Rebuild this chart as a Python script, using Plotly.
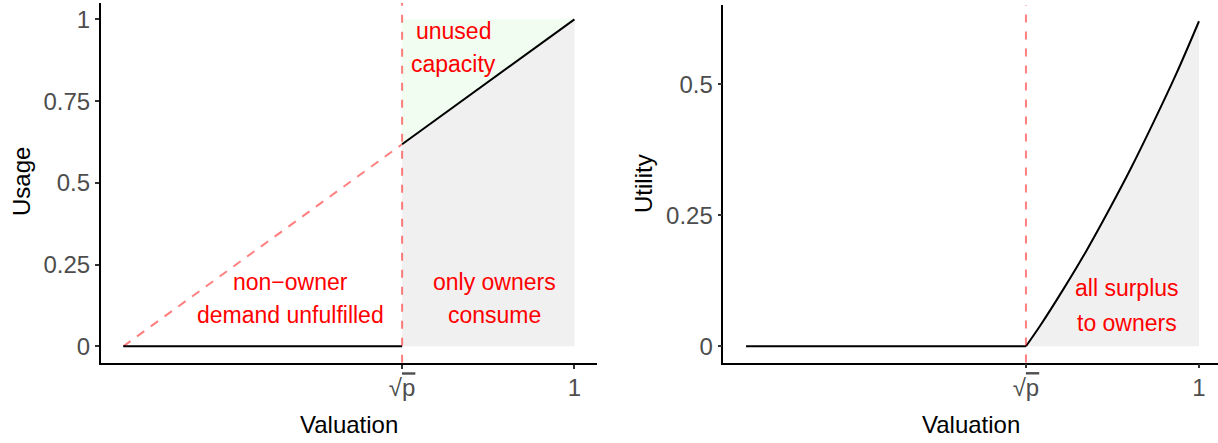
import plotly.graph_objects as go

# ---- data ----
sqrt_p = 0.618
usage_x = [sqrt_p, 1.0]
usage_y = [0.618, 1.0]
zero_x = [0.0, sqrt_p]
zero_y = [0.0, 0.0]
diag_x = [0.0, sqrt_p]
diag_y = [0.0, 0.618]
util_x = [0.618, 0.65, 0.70, 0.75, 0.80, 0.85, 0.90, 0.95, 1.00]
util_y = [0.0, 0.04, 0.108, 0.18, 0.258, 0.34, 0.428, 0.52, 0.62]
x_tickvals = [sqrt_p, 1.0]
x_ticktext = ["√<span style='text-decoration:overline'>p</span>", "1"]
usage_ticks = [0, 0.25, 0.5, 0.75, 1]
usage_ticktext = ["0", "0.25", "0.5", "0.75", "1"]
util_ticks = [0, 0.25, 0.5]
util_ticktext = ["0", "0.25", "0.5"]

FONT = "Liberation Sans, Arial, sans-serif"
RED_DASH = "rgba(255,0,0,0.5)"
GREY = "rgb(240,240,240)"
GREEN = "rgb(240,253,240)"

fig = go.Figure()

# ---- left panel fills ----
fig.add_trace(go.Scatter(
    x=[usage_x[0], usage_x[1], usage_x[1], usage_x[0]],
    y=[0, 0, usage_y[1], usage_y[0]],
    fill="toself", fillcolor=GREY, line=dict(width=0), mode="lines",
    hoverinfo="skip", showlegend=False, xaxis="x", yaxis="y"))
fig.add_trace(go.Scatter(
    x=[usage_x[0], usage_x[1], usage_x[0]],
    y=[usage_y[0], usage_y[1], usage_y[1]],
    fill="toself", fillcolor=GREEN, line=dict(width=0), mode="lines",
    hoverinfo="skip", showlegend=False, xaxis="x", yaxis="y"))
# ---- left panel lines ----
fig.add_trace(go.Scatter(x=diag_x, y=diag_y, mode="lines",
    line=dict(color=RED_DASH, width=2, dash="9px,8px"),
    showlegend=False, xaxis="x", yaxis="y"))
fig.add_trace(go.Scatter(x=zero_x, y=zero_y, mode="lines",
    line=dict(color="black", width=2), showlegend=False, xaxis="x", yaxis="y"))
fig.add_trace(go.Scatter(x=usage_x, y=usage_y, mode="lines",
    line=dict(color="black", width=2), showlegend=False, xaxis="x", yaxis="y"))

# ---- right panel ----
fig.add_trace(go.Scatter(
    x=util_x + [util_x[-1], util_x[0]],
    y=util_y + [0, 0],
    fill="toself", fillcolor=GREY, line=dict(width=0), mode="lines",
    hoverinfo="skip", showlegend=False, xaxis="x2", yaxis="y2"))
fig.add_trace(go.Scatter(x=zero_x, y=zero_y, mode="lines",
    line=dict(color="black", width=2), showlegend=False, xaxis="x2", yaxis="y2"))
fig.add_trace(go.Scatter(x=util_x, y=util_y, mode="lines", line_shape="spline",
    line=dict(color="black", width=2), showlegend=False, xaxis="x2", yaxis="y2"))

# vertical dashed lines at sqrt(p)
for xr, yr in [("x", "y domain"), ("x2", "y2 domain")]:
    fig.add_shape(type="line", xref=xr, yref=yr, x0=sqrt_p, x1=sqrt_p, y0=0, y1=1,
                  line=dict(color=RED_DASH, width=2, dash="8px,9px"))

axis_common = dict(showgrid=False, zeroline=False, showline=True, linecolor="black",
                   linewidth=1.6, ticks="outside", ticklen=4, tickwidth=1.5,
                   tickcolor="#333333", tickfont=dict(family=FONT, size=24, color="#4D4D4D"),
                   automargin=False, fixedrange=True)

fig.update_layout(
    width=1218, height=443,
    margin=dict(l=0, r=0, t=0, b=0),
    paper_bgcolor="white", plot_bgcolor="white",
    font=dict(family=FONT),
    xaxis=dict(domain=[100.7/1218, 597/1218], range=[-0.05, 1.05],
               tickvals=x_tickvals, ticktext=x_ticktext, anchor="y",
               ticklabelstandoff=-1, **axis_common),
    yaxis=dict(domain=[(443-362.7)/443, (443-3)/443], range=[-0.05, 1.05],
               tickvals=usage_ticks, ticktext=usage_ticktext, anchor="x", **axis_common),
    xaxis2=dict(domain=[723.4/1218, 1.0], range=[-0.05, 1.042],
                tickvals=x_tickvals, ticktext=x_ticktext, anchor="y2",
                ticklabelstandoff=-1, **axis_common),
    yaxis2=dict(domain=[(443-362.5)/443, (443-5)/443], range=[-0.031, 0.651],
                tickvals=util_ticks, ticktext=util_ticktext, anchor="x2", **axis_common),
)

def ann(text, x, y, xref, yref, size=23, color="red", **kw):
    fig.add_annotation(text=text, x=x, y=y, xref=xref, yref=yref, showarrow=False,
                       font=dict(family=FONT, size=size, color=color),
                       xanchor="center", yanchor="middle", **kw)

# panel labels
ann("non−owner", 0.3705, 0.1955, "x", "y")
ann("demand unfulfilled", 0.3705, 0.0947, "x", "y")
ann("only owners", 0.8227, 0.1955, "x", "y")
ann("consume", 0.8227, 0.0947, "x", "y")
ann("unused", 0.732, 0.9655, "x", "y")
ann("capacity", 0.732, 0.8647, "x", "y")
ann("all surplus", 0.84, 0.1107, "x2", "y2")
ann("to owners", 0.84, 0.0439, "x2", "y2")

# axis titles
ann("Valuation", 348.8/1218, (443-424)/443, "paper", "paper", size=24, color="black")
ann("Valuation", 971/1218, (443-424)/443, "paper", "paper", size=24, color="black")
ann("Usage", 21/1218, (443-182)/443, "paper", "paper", size=24, color="black", textangle=-90)
ann("Utility", 643/1218, (443-184)/443, "paper", "paper", size=24, color="black", textangle=-90)

fig.write_html("out.html")
